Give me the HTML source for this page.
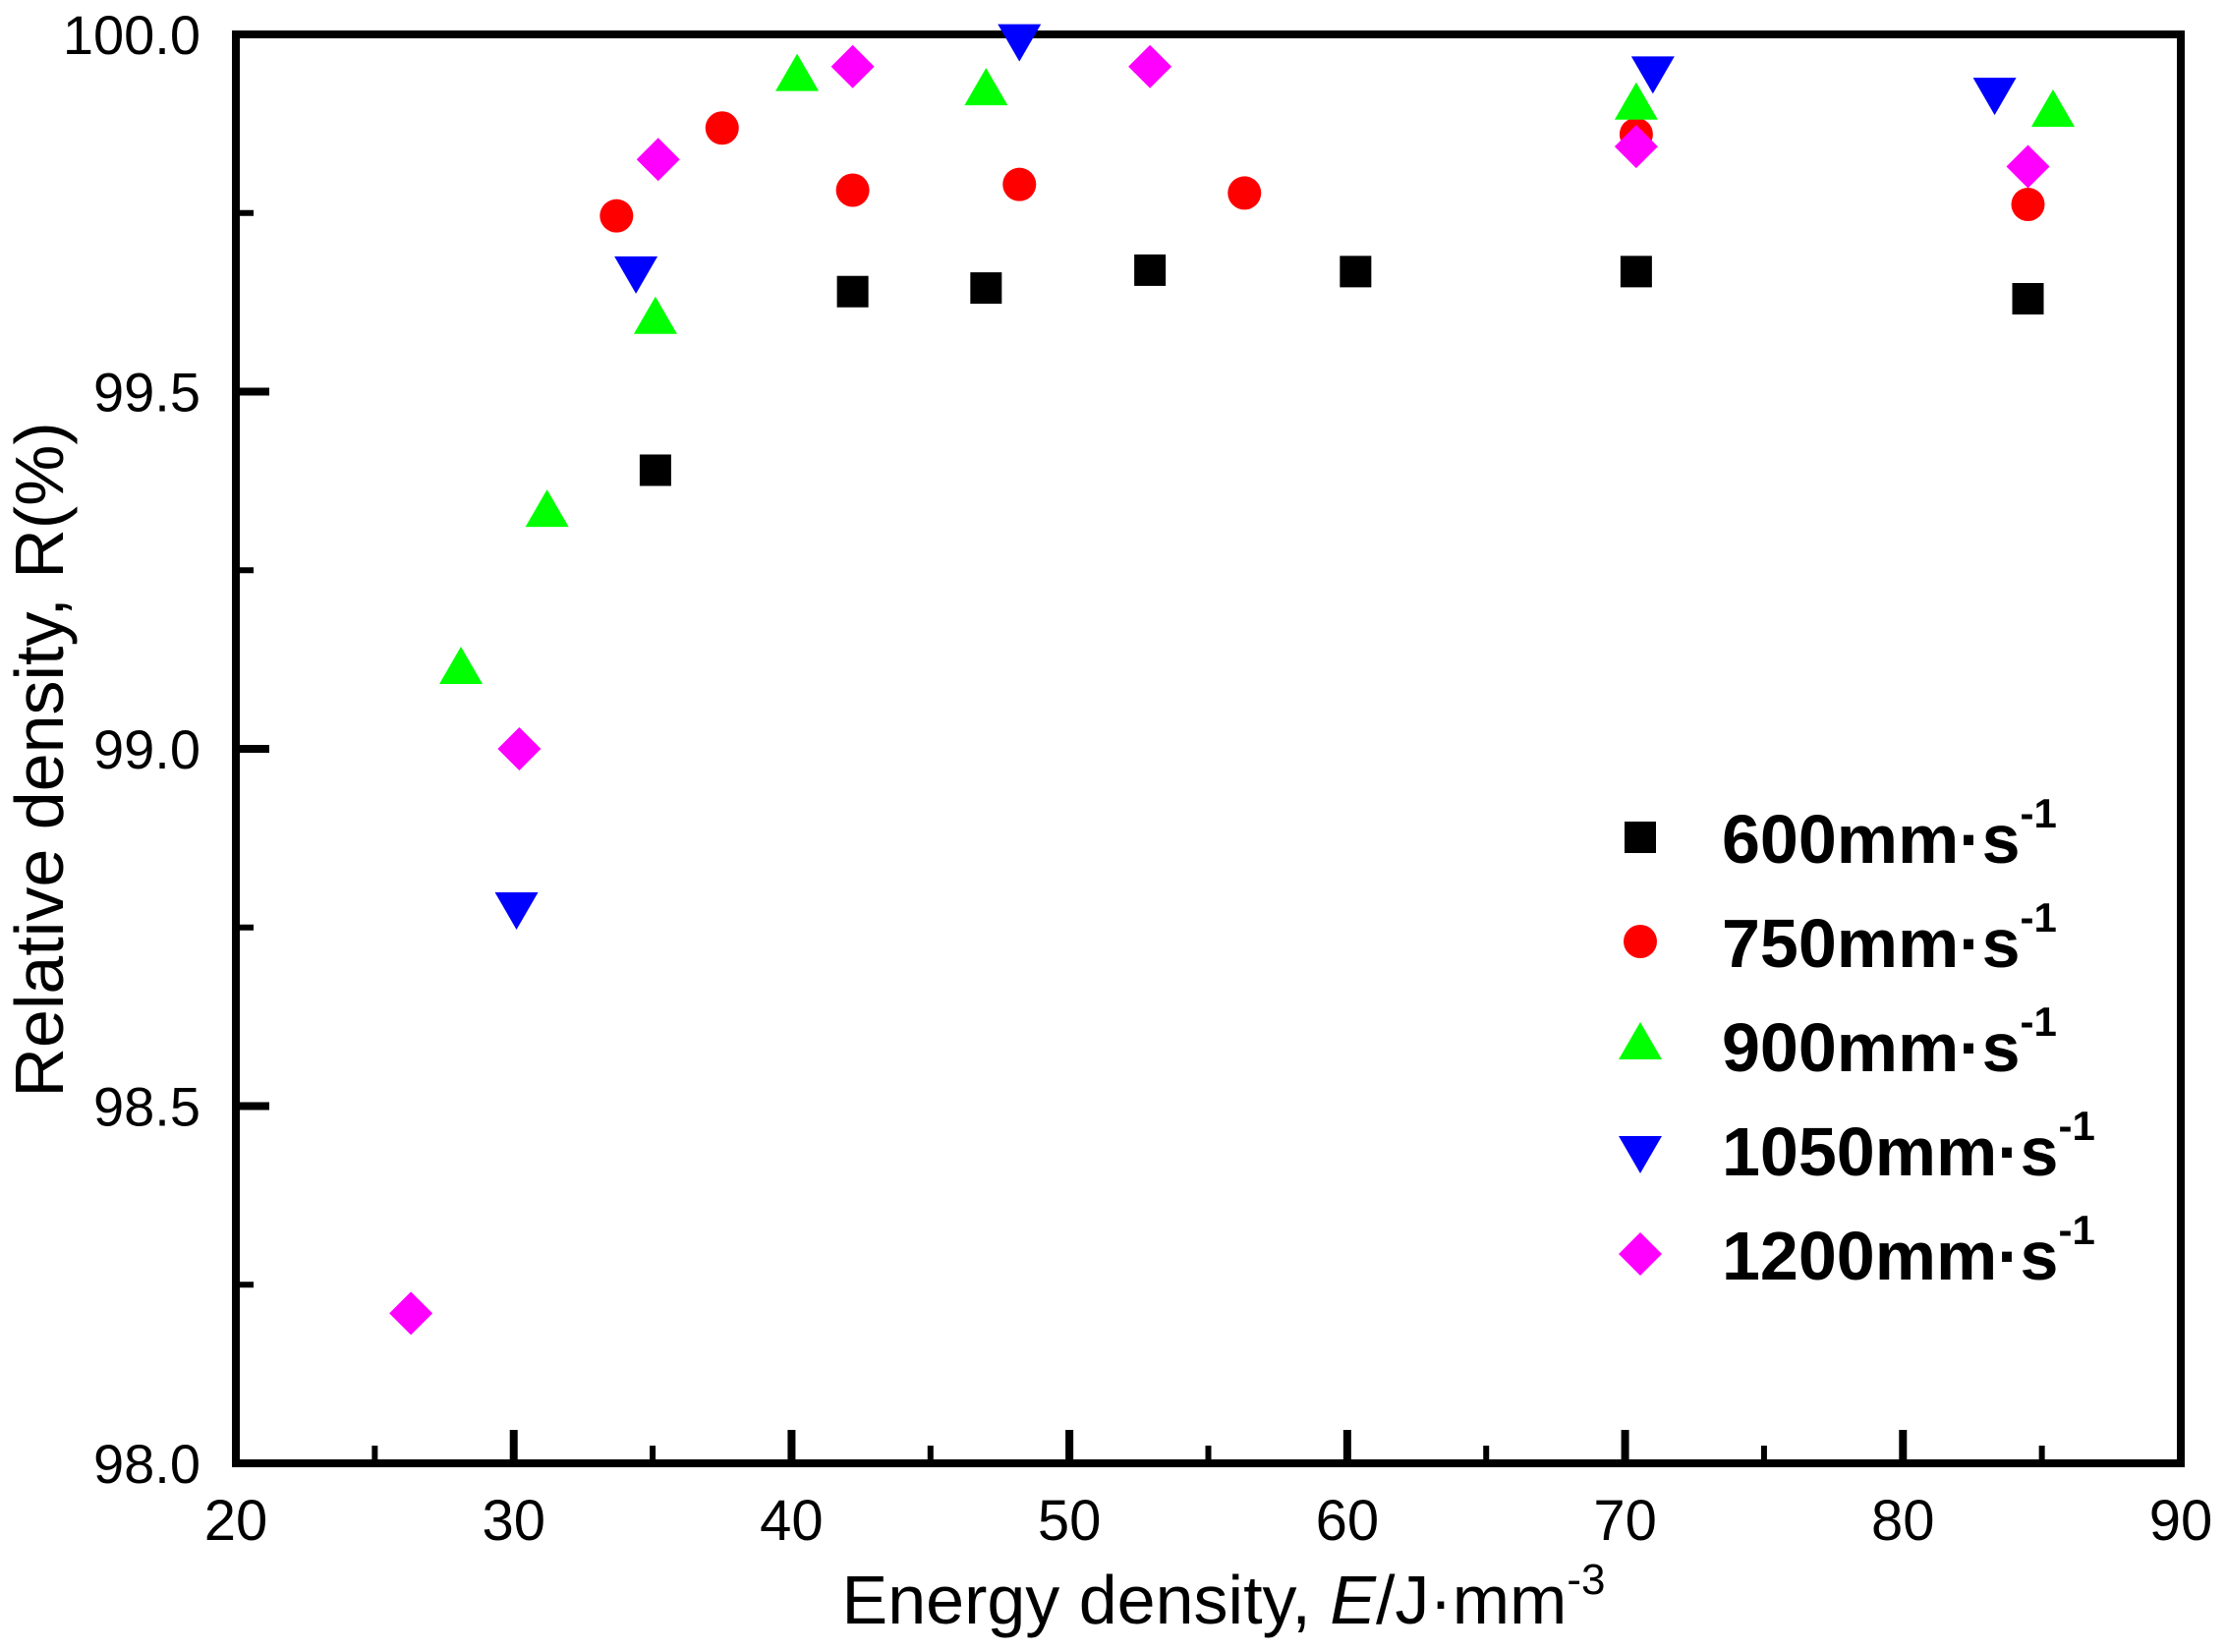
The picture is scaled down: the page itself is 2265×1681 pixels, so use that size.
<!DOCTYPE html>
<html><head><meta charset="utf-8"><style>
html,body{margin:0;padding:0;background:#fff;}
svg{display:block;font-family:"Liberation Sans",Arial,sans-serif;}
</style></head><body>
<svg id="chart" width="2265" height="1681" viewBox="0 0 2265 1681">
<g id="axes"></g>
<g id="marks"></g>
<g id="legend"></g>
<text x="1245" y="1652" font-size="70" text-anchor="middle">Energy density, <tspan font-style="italic">E</tspan>/J·mm<tspan font-size="44" dy="-30">-3</tspan></text>
<text transform="translate(64,773) rotate(-90)" font-size="70" text-anchor="middle">Relative density, R(%)</text>
</svg>
<script>
const xTicks=[20,30,40,50,60,70,80,90];
const yTicks=[98.0,98.5,99.0,99.5,100.0];
const seriesNames=["600mm·s","750mm·s","900mm·s","1050mm·s","1200mm·s"];
const seriesColors=["#000000","#ff0000","#00ff00","#0000ff","#ff00ff"];
const seriesShapes=["square","circle","up","down","diamond"];
const x600=[35.1,42.2,47.0,52.9,60.3,70.4,84.5];
const y600=[99.39,99.64,99.645,99.67,99.668,99.668,99.63];
const x750=[33.7,37.5,42.2,48.2,56.3,70.4,84.5];
const y750=[99.746,99.869,99.782,99.79,99.778,99.86,99.762];
const x900=[28.1,31.2,35.1,40.2,47.0,70.4,85.4];
const y900=[99.11,99.33,99.60,99.94,99.92,99.90,99.89];
const x1050=[30.1,34.4,48.2,71.0,83.3];
const y1050=[98.78,99.67,99.995,99.95,99.92];
const x1200=[26.3,30.2,35.2,42.2,52.9,70.4,84.5];
const y1200=[98.21,99.0,99.825,99.955,99.955,99.843,99.815];
const seriesX=[x600,x750,x900,x1050,x1200];
const seriesY=[y600,y750,y900,y1050,y1200];

const L=240,R=2219,T=35,B=1489;
const sx=v=>L+(v-20)/(90-20)*(R-L);
const sy=v=>B-(v-98)/(100-98)*(B-T);
const NS="http://www.w3.org/2000/svg";
function mk(tag,attrs,parent){const e=document.createElementNS(NS,tag);for(const k in attrs)e.setAttribute(k,attrs[k]);parent.appendChild(e);return e;}
const axes=document.getElementById('axes');
const frame=mk('rect',{x:L,y:T,width:R-L,height:B-T,fill:'none',stroke:'#000','stroke-width':8},axes);


for(let v=20;v<=90;v+=5){
  const major=v%10===0;const x=sx(v);
  const t=mk('line',{x1:x,x2:x,y1:B,y2:B-(major?34:18),stroke:'#000','stroke-width':major?8:6},axes);
  
  
}
xTicks.forEach(v=>{
  const t=mk('text',{x:sx(v),y:1567,'font-size':58,'text-anchor':'middle'},axes);t.textContent=v;
  
  
});
for(let i=0;i<=8;i++){
  const v=98+i*0.25;const major=i%2===0;const y=sy(v);
  const t=mk('line',{x1:L,x2:L+(major?34:18),y1:y,y2:y,stroke:'#000','stroke-width':major?8:6},axes);
  
  
}
yTicks.forEach(v=>{
  const t=mk('text',{x:204,y:sy(v)+20,'font-size':56,'text-anchor':'end'},axes);t.textContent=v.toFixed(1);
  
  
});
function marker(shape,cx,cy,color,parent){
  let e;
  if(shape==='square')e=mk('rect',{x:cx-16,y:cy-16,width:32,height:32,fill:color},parent);
  else if(shape==='circle')e=mk('circle',{cx:cx,cy:cy,r:17,fill:color},parent);
  else if(shape==='up')e=mk('polygon',{points:`${cx-22},${cy+14} ${cx+22},${cy+14} ${cx},${cy-24}`,fill:color},parent);
  else if(shape==='down')e=mk('polygon',{points:`${cx-22},${cy-14} ${cx+22},${cy-14} ${cx},${cy+24}`,fill:color},parent);
  else e=mk('polygon',{points:`${cx},${cy-22} ${cx+22},${cy} ${cx},${cy+22} ${cx-22},${cy}`,fill:color},parent);
  return e;
}
const marks=document.getElementById('marks');
seriesX.forEach((xs,s)=>{
  xs.forEach((xv,i)=>{
    const m=marker(seriesShapes[s],sx(xv),sy(seriesY[s][i]),seriesColors[s],marks);
    
    
  });
});
const legend=document.getElementById('legend');
seriesNames.forEach((n,s)=>{
  const base=876+s*106;
  const m=marker(seriesShapes[s],1669,base-24,seriesColors[s],legend);
  
  
  const t=mk('text',{x:1752,y:base+2,'font-size':70,'font-weight':'bold'},legend);
  t.textContent=n;
  const sup=mk('tspan',{'font-size':42,dy:-36},t);sup.textContent='-1';
  
  
});
</script>
</body></html>
